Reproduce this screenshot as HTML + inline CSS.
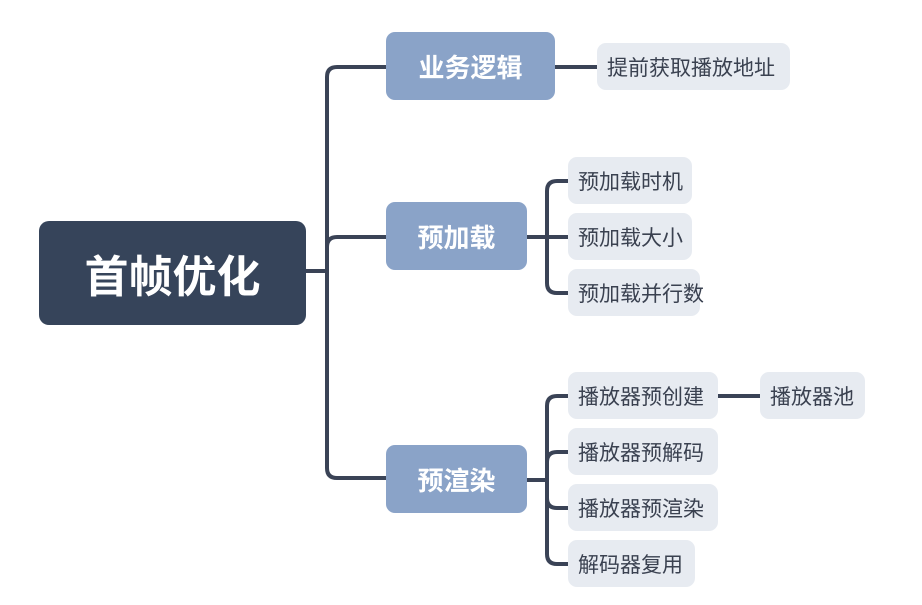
<!DOCTYPE html>
<html><head><meta charset="utf-8"><style>
html,body{margin:0;padding:0;background:#fff;}
body{width:922px;height:605px;position:relative;overflow:hidden;font-family:"Liberation Sans","Noto Sans CJK SC",sans-serif;}
.b{position:absolute;display:flex;align-items:center;justify-content:center;box-sizing:border-box;}
.root{background:#36445a;color:#fff;font-size:44px;font-weight:bold;border-radius:10px;}
.l1{background:#8aa3c8;color:#fff;font-size:26px;font-weight:bold;border-radius:9px;}
.lf{background:#e7ebf1;color:#3a4150;font-size:21px;border-radius:9px;justify-content:flex-start;padding-left:10px;white-space:nowrap;}
svg{position:absolute;left:0;top:0;}
</style></head><body>
<svg width="922" height="605" fill="none" stroke="#3a4356" stroke-width="4">
<path d="M306 271 H327"/>
<path d="M386 67 H337 Q327 67 327 77 V468 Q327 478 337 478 H386"/>
<path d="M327 247 Q327 237 337 237 H386"/>
<path d="M555 67 H597"/>
<path d="M527 237 H568"/>
<path d="M568 181 H557 Q547 181 547 191 V283 Q547 293 557 293 H568"/>
<path d="M527 480 H547"/>
<path d="M568 396 H557 Q547 396 547 406 V554 Q547 564 557 564 H568"/>
<path d="M547 462 Q547 452 557 452 H568"/>
<path d="M547 498 Q547 508 557 508 H568"/>
<path d="M718 396 H760"/>
</svg>
<div class="b root" style="left:39px;top:221px;width:267px;height:104px;">首帧优化</div>
<div class="b l1" style="left:386px;top:32px;width:169px;height:68px;">业务逻辑</div>
<div class="b l1" style="left:386px;top:202px;width:141px;height:68px;">预加载</div>
<div class="b l1" style="left:386px;top:445px;width:141px;height:68px;">预渲染</div>
<div class="b lf" style="left:597px;top:43px;width:193px;height:47px;">提前获取播放地址</div>
<div class="b lf" style="left:568px;top:157px;width:124px;height:47px;">预加载时机</div>
<div class="b lf" style="left:568px;top:213px;width:124px;height:47px;">预加载大小</div>
<div class="b lf" style="left:568px;top:269px;width:132px;height:47px;">预加载并行数</div>
<div class="b lf" style="left:568px;top:372px;width:150px;height:47px;">播放器预创建</div>
<div class="b lf" style="left:568px;top:428px;width:150px;height:47px;">播放器预解码</div>
<div class="b lf" style="left:568px;top:484px;width:150px;height:47px;">播放器预渲染</div>
<div class="b lf" style="left:568px;top:540px;width:127px;height:47px;">解码器复用</div>
<div class="b lf" style="left:760px;top:372px;width:105px;height:47px;">播放器池</div>
</body></html>
